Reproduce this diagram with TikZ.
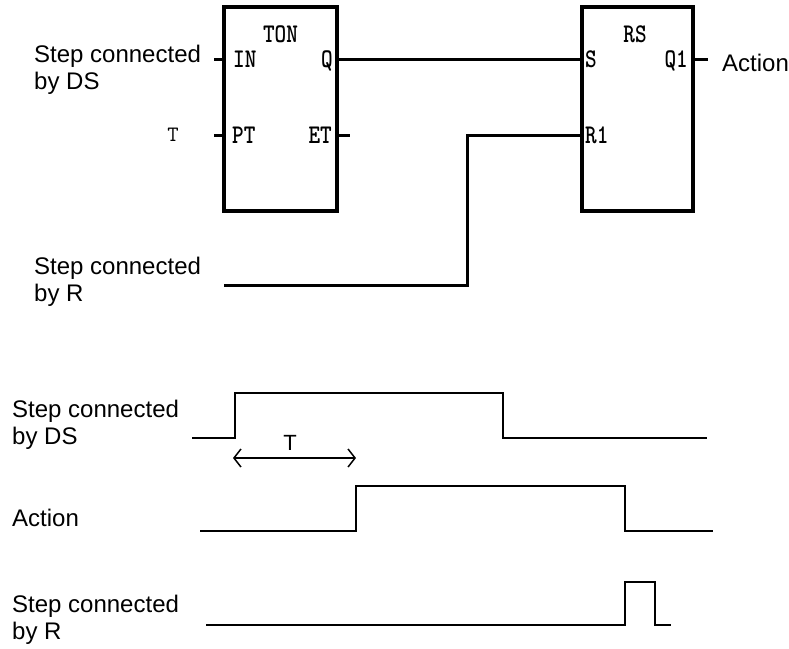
\documentclass[tikz,border=0pt]{standalone}
\usepackage{fontspec}
\setmainfont{Liberation Sans}
\usetikzlibrary{arrows.meta}
\newcommand{\plctext}[1]{\scalebox{0.82}[1]{#1}}

\begin{document}
\begin{tikzpicture}[x=1pt,y=-1pt,
    fblock/.style={draw,line width=3.5pt,rectangle,inner sep=0pt},
    wire/.style={line width=3pt},
    signal/.style={line width=2pt},
    pinlab/.style={inner sep=0pt,font=\fontsize{27}{27}\selectfont\ttfamily\bfseries},
    steplab/.style={inner sep=0pt,align=left,font=\fontsize{24}{26.5}\selectfont},
    barb/.tip={Straight Barb[length=7pt,width=18pt]}]
  \useasboundingbox (0,0) rectangle (789,648);
  \node[fblock,minimum width=113pt,minimum height=204pt] (ton) at (280.5,109) {};
  \node[fblock,minimum width=111pt,minimum height=204pt] (rs) at (637.5,109) {};
  \coordinate (ton-in) at (224,59);
  \coordinate (ton-pt) at (224,135);
  \coordinate (ton-q) at (337,59);
  \coordinate (ton-et) at (337,135);
  \coordinate (rs-s) at (582,59);
  \coordinate (rs-r1) at (582,135);
  \coordinate (rs-q1) at (693,59);
  \coordinate (in-end) at (214,59);
  \coordinate (pt-end) at (214,135);
  \coordinate (et-end) at (350,135);
  \coordinate (q1-end) at (708,59);
  \coordinate (r-start) at (224,285);
  \coordinate (r-turn) at (467,285);
  \node[pinlab,anchor=base] (ton-name) at (280.5,42) {\plctext{TON}};
  \node[pinlab,anchor=base west] (in-lab) at (233,67) {\plctext{IN}};
  \node[pinlab,anchor=base west] (pt-lab) at (232,143) {\plctext{PT}};
  \node[pinlab,anchor=base east] (q-lab) at (333,67) {\plctext{Q}};
  \node[pinlab,anchor=base east] (et-lab) at (332,143) {\plctext{ET}};
  \node[pinlab,anchor=base] (rs-name) at (635,42) {\plctext{RS}};
  \node[pinlab,anchor=base west] (s-lab) at (585,67) {\plctext{S}};
  \node[pinlab,anchor=base west] (r1-lab) at (585,143) {\plctext{R1}};
  \node[pinlab,anchor=base east] (q1-lab) at (688,67) {\plctext{Q1}};
  \node[inner sep=0pt,font=\fontsize{22}{22}\selectfont\ttfamily] (t-in) at (173,135) {T};
  \node[steplab,anchor=west] (ds-top) at (34,70) {Step connected\\by DS};
  \node[steplab,anchor=west] (r-top) at (34,282) {Step connected\\by R};
  \node[steplab,anchor=base west] (act-top) at (722,71) {Action};
  \draw[wire] (ton-q) -- (rs-s);
  \foreach \a/\b in {ton-in/in-end,ton-pt/pt-end,ton-et/et-end,rs-q1/q1-end}
    \draw[wire] (\a) -- (\b);
  \draw[wire] (r-start) -- (r-turn) |- (rs-r1);
  \node[steplab,anchor=west] (ds-bot) at (12,425) {Step connected\\by DS};
  \node[steplab,anchor=base west] (act-bot) at (12,526) {Action};
  \node[steplab,anchor=west] (r-bot) at (12,620) {Step connected\\by R};
  \draw[signal] (192,438) -| (235,393) -| (503,438) -- (707,438);
  \draw[signal] (200,531) -| (356,486) -| (625,531) -- (713,531);
  \draw[signal] (206,625) -| (625,582) -| (655,625) -- (671,625);
  \draw[line width=1.5pt,barb-barb] (233,458) -- (356,458);
  \node[inner sep=0pt,font=\fontsize{22}{22}\selectfont] (t-bot) at (290,443) {T};
\end{tikzpicture}
\end{document}
